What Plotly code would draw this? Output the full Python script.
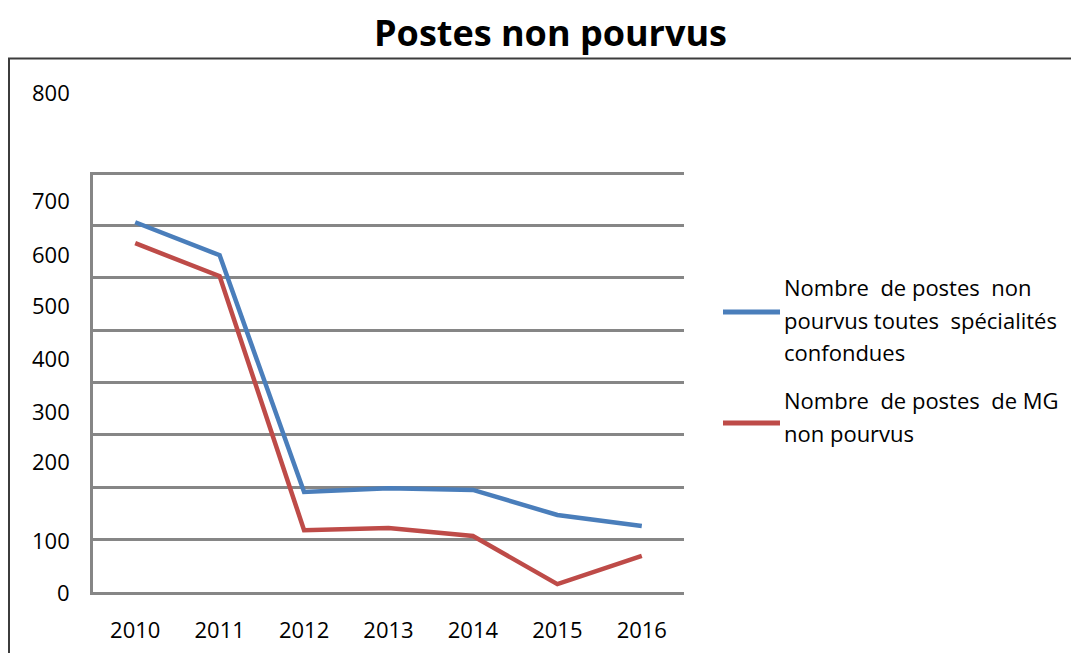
import plotly.graph_objects as go

# data
years = ["2010", "2011", "2012", "2013", "2014", "2015", "2016"]
total_non_pourvus = [706, 643, 191, 198, 195, 147, 126]
mg_non_pourvus = [666, 603, 118, 122, 107, 15, 69]

series_lines = [
    ["Nombre  de postes  non", "pourvus toutes  spécialités", "confondues"],
    ["Nombre  de postes  de MG", "non pourvus"],
]
series_colors = ["#4a7ebb", "#be4b48"]

# y tick labels (the source draws most of them a bit above their gridline)
ytick_vals = [0, 100, 200, 300, 400, 500, 600, 700, 800]
ytick_shift = [0, 0, 26, 24, 25, 25, 24, 25, 81]

# page has an 8px body margin, so the figure is drawn 8px in
PAD = 8
W, H = 1079 - PAD, 653 - PAD
FONT = "'Open Sans', Lato, sans-serif"
GRID = "#868686"


def px(x):
    # screen x (reference pixels) -> paper coord
    return (x - PAD) / W


def py(y):
    # screen y (reference pixels) -> paper coord
    return 1 - (y - PAD) / H


fig = go.Figure()
for lines, vals, color in zip(
    series_lines, [total_non_pourvus, mg_non_pourvus], series_colors
):
    fig.add_trace(
        go.Scatter(
            x=years,
            y=vals,
            name=" ".join(lines),
            mode="lines",
            line=dict(color=color, width=4.5),
            showlegend=False,
        )
    )

# y tick labels
for v, s in zip(ytick_vals, ytick_shift):
    fig.add_annotation(
        x=px(72), xref="paper", xanchor="right",
        y=v, yref="y", yshift=s, yanchor="middle",
        text=str(v), showarrow=False,
        font=dict(family=FONT, size=22, color="#000000"),
    )

# hand-drawn legend, like the spreadsheet one
legend_pos = [(312, 287), (423, 400)]
for lines, color, (ly, ty) in zip(series_lines, series_colors, legend_pos):
    fig.add_shape(
        type="line", xref="paper", yref="paper",
        x0=px(723), x1=px(780), y0=py(ly), y1=py(ly),
        line=dict(color=color, width=5),
    )
    for i, line in enumerate(lines):
        fig.add_annotation(
            x=px(782), xref="paper", xanchor="left",
            y=py(ty + 32.5 * i), yref="paper", yanchor="middle",
            text=line, showarrow=False, align="left",
            font=dict(family=FONT, size=22, color="#000000"),
        )

# outer chart border (left and top only show in the crop)
fig.add_shape(
    type="rect", xref="paper", yref="paper",
    x0=px(9), x1=1.05, y0=-0.05, y1=py(58.5),
    line=dict(color="#3c3c3c", width=2),
)

# chart title
fig.add_annotation(
    x=px(550), xref="paper", xanchor="center",
    y=py(32), yref="paper", yanchor="middle",
    text="<b>Postes non pourvus</b>", showarrow=False,
    font=dict(family=FONT, size=36, color="#000000"),
)

fig.update_layout(
    width=W,
    height=H,
    margin=dict(l=0, r=0, t=0, b=0),
    paper_bgcolor="white",
    plot_bgcolor="white",
    xaxis=dict(
        domain=[px(93), px(684)],
        type="category",
        range=[-0.5, 6.5],
        showgrid=False,
        showline=True,
        linecolor=GRID,
        linewidth=2.5,
        ticks="",
        ticklabelstandoff=17,
        tickfont=dict(family=FONT, size=22, color="#000000"),
    ),
    yaxis=dict(
        domain=[py(592), py(172)],
        range=[0, 802],
        dtick=100,
        showgrid=True,
        gridcolor=GRID,
        gridwidth=2.5,
        showline=True,
        linecolor=GRID,
        linewidth=2.5,
        zeroline=False,
        showticklabels=False,
        ticks="",
    ),
)

fig.write_html("out.html")
